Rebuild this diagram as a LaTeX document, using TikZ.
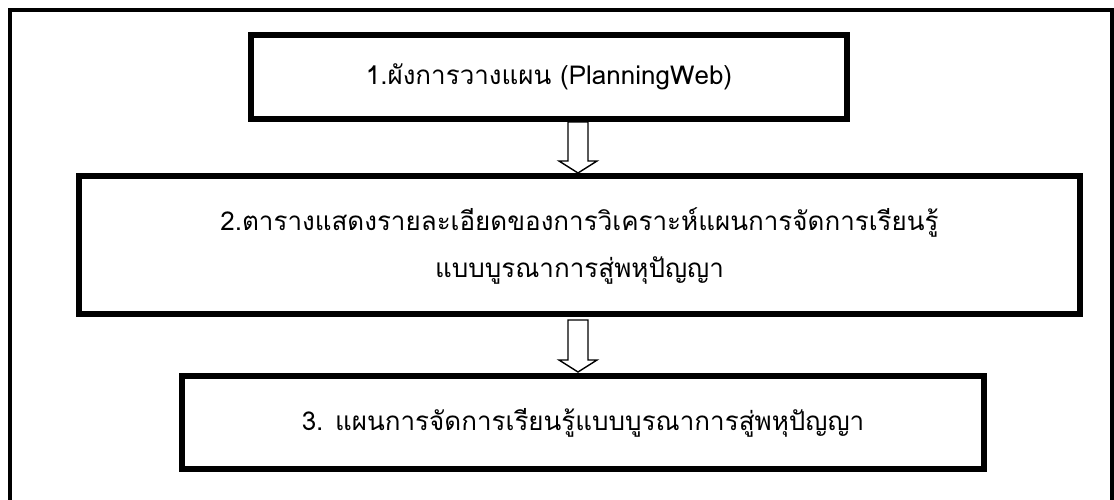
\documentclass[tikz,border=0pt]{standalone}
\usepackage{fontspec}
\setmainfont{Loma}[Script=Thai]
\usetikzlibrary{calc}
\tikzset{
  frame/.style={line width=4.5pt, black},
  stepbox/.style={draw=black, line width=6pt, rectangle, inner sep=0pt, align=center, font=\fontsize{26}{46}\selectfont},
  blockarrow/.style={draw=black, line width=1.4pt, fill=white, line join=miter}
}
\begin{document}
\begin{tikzpicture}[x=1pt,y=-1pt]
\useasboundingbox (0,0) rectangle (1114,499);
\draw[frame] (10,505) -- (10,10) -- (1112,10) -- (1112,505);
\node[stepbox, minimum width=596pt, minimum height=84pt] (b1) at (549,77) {1.ผังการวางแผน (PlanningWeb)};
\node[stepbox, minimum width=1001pt, minimum height=138pt] (b2) at (579.5,245) {\raisebox{3pt}{\begin{tabular}{@{}c@{}}2.ตารางแสดงรายละเอียดของการวิเคราะห์แผนการจัดการเรียนรู้\\[1pt]แบบบูรณาการสู่พหุปัญญา\end{tabular}}};
\node[stepbox, minimum width=802pt, minimum height=93pt] (b3) at (583,422.5) {\raisebox{4pt}{3. แผนการจัดการเรียนรู้แบบบูรณาการสู่พหุปัญญา}};
\coordinate (a1s) at (578,122);
\coordinate (a1t) at (578,173);
\coordinate (a2s) at (578,320);
\coordinate (a2t) at (578,372);
\draw[blockarrow] ($(a1s)+(-10,0)$) -- ($(a1s)+(10,0)$) -- ($(a1t)+(10,-12)$) -- ($(a1t)+(19,-12)$) -- (a1t) -- ($(a1t)+(-19,-12)$) -- ($(a1t)+(-10,-12)$) -- cycle;
\draw[blockarrow] ($(a2s)+(-10,0)$) -- ($(a2s)+(10,0)$) -- ($(a2t)+(10,-12)$) -- ($(a2t)+(19,-12)$) -- (a2t) -- ($(a2t)+(-19,-12)$) -- ($(a2t)+(-10,-12)$) -- cycle;
\end{tikzpicture}
\end{document}
